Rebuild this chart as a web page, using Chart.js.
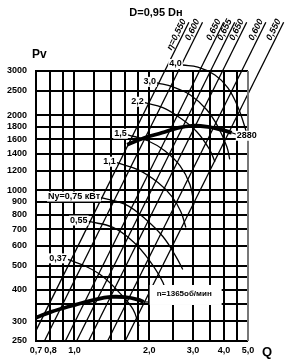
<!DOCTYPE html>
<html>
<head>
<meta charset="utf-8">
<script src="https://cdn.jsdelivr.net/npm/chart.js@4.4.0/dist/chart.umd.min.js"></script>
<style>
  html, body { margin: 0; padding: 0; background: #fff; }
</style>
</head>
<body>
<canvas id="fanChart" width="290" height="360"></canvas>
<script>
// --- Axis ticks ---
const qTicks = [0.7, 0.8, 0.9, 1.0, 1.2, 1.4, 1.6, 1.8, 2.0, 2.5, 3.0, 3.5, 4.0, 4.5, 5.0];
const qLabelled = [0.7, 0.8, 1.0, 2.0, 3.0, 4.0, 5.0];
const pTicks = [250, 300, 350, 400, 450, 500, 600, 700, 800, 900, 1000, 1200, 1400, 1600, 1800, 2000, 2500, 3000];
const pLabelled = [250, 300, 400, 500, 600, 700, 800, 900, 1000, 1200, 1400, 1600, 1800, 2000, 2500, 3000];

// --- Fan curves [Q, Pv] ---
const curve1365 = [[0.7, 310], [0.8, 326], [0.9, 338], [1.0, 348], [1.2, 365], [1.4, 375], [1.6, 374], [1.8, 366], [1.9, 358]];
const curve2880 = [[1.63, 1522], [1.92, 1623], [2.25, 1699], [2.61, 1778], [2.97, 1812], [3.45, 1795], [3.92, 1746], [4.30, 1699]];

// --- Efficiency lines (bottom end, top end) ---
const effLabels = ['η=0,550', '0,600', '0,650', '0,655', '0,650', '0,600', '0,550'];
const effFrom = [[0.70, 275], [0.757, 250], [0.919, 250], [1.02, 250], [1.14, 250], [1.36, 250], [1.60, 250]];
const effTo = [[2.89, 4700], [3.28, 4700], [3.99, 4700], [4.42, 4700], [4.94, 4700], [5.90, 4700], [6.96, 4700]];

// --- Power lines, kW ---
const powerLabels = ['0,37', '0,55', 'Ny=0,75 кВт', '1,1', '1,5', '2,2', '3,0', '4,0'];
const power037 = [[0.94, 530], [1.11, 497], [1.30, 453], [1.51, 392], [1.72, 335], [1.82, 287]];
const power055 = [[1.14, 751], [1.43, 711], [1.72, 625], [1.99, 530], [2.27, 429], [2.38, 367]];
const power075 = [[1.28, 936], [1.61, 877], [1.94, 765], [2.27, 654], [2.56, 545], [2.73, 483]];
const power110 = [[1.48, 1290], [1.80, 1210], [2.17, 1074], [2.47, 944], [2.68, 823], [2.81, 711]];
const power150 = [[1.64, 1668], [1.975, 1579], [2.31, 1440], [2.66, 1255], [2.92, 1054], [3.03, 877]];
const power220 = [[1.92, 2240], [2.27, 2140], [2.66, 1950], [3.11, 1715], [3.51, 1450], [3.68, 1300]];
const power300 = [[2.15, 2690], [2.49, 2590], [2.92, 2410], [3.41, 2100], [3.78, 1800], [4.11, 1495], [4.22, 1330]];
const power400 = [[2.73, 3170], [3.14, 3110], [3.68, 2890], [4.15, 2570], [4.55, 2160], [4.85, 1800], [4.95, 1670]];
const powerArcs = [power037, power055, power075, power110, power150, power220, power300, power400];

const FONT = '"Liberation Sans", Arial, sans-serif';

// --- Helpers ---
function toPoints(pairs){
    return pairs.map(([q, p]) => ({x: q, y: p}));
}
function lineSet(pairs, width, tension){
    return {
        data: toPoints(pairs),
        borderColor: '#000',
        borderWidth: width,
        pointRadius: 0,
        tension: tension,
        fill: false,
        clip: false
    };
}
function commaNum(v){
    return v.toFixed(1).replace('.', ',');
}
function boxedText(ctx, text, x, y, align){
    const w = ctx.measureText(text).width;
    const left = align === 'right' ? x - w : x;
    ctx.fillStyle = '#fff';
    ctx.fillRect(left - 1, y - 5, w + 2, 10);
    ctx.fillStyle = '#000';
    ctx.textAlign = align;
    ctx.fillText(text, x, y);
}

// --- Labels, frame and headings ---
const annotate = {
    id: 'annotate',
    afterDatasetsDraw(chart){
        const {ctx, chartArea: a, scales} = chart;
        const sx = scales.x, sy = scales.y;
        const px = pt => [sx.getPixelForValue(pt[0]), sy.getPixelForValue(pt[1])];
        ctx.save();

        // frame
        ctx.lineWidth = 2;
        ctx.strokeStyle = '#000';
        ctx.beginPath();
        ctx.moveTo(a.right, a.top);
        ctx.lineTo(a.left, a.top);
        ctx.lineTo(a.left, a.bottom);
        ctx.lineTo(a.right, a.bottom);
        ctx.stroke();
        ctx.strokeStyle = '#777';
        ctx.beginPath();
        ctx.moveTo(a.right, a.top);
        ctx.lineTo(a.right, a.bottom);
        ctx.stroke();

        // power labels at the start of each arc
        ctx.font = 'bold 9px ' + FONT;
        ctx.textBaseline = 'middle';
        powerArcs.forEach((arc, i) => {
            const [x0, y0] = px(arc[0]);
            boxedText(ctx, powerLabels[i], x0 - 1, y0 - 1, 'right');
        });

        // speed labels
        ctx.lineWidth = 1.2;
        ctx.strokeStyle = '#000';
        const [ax, ay] = px(curve1365[curve1365.length - 1]);
        ctx.beginPath();
        ctx.moveTo(ax, ay);
        ctx.lineTo(ax + 8, ay);
        ctx.stroke();
        ctx.fillStyle = '#fff';
        ctx.fillRect(ax + 6, ay - 17, 72, 20);
        ctx.fillStyle = '#000';
        ctx.font = 'bold 8px ' + FONT;
        ctx.textAlign = 'left';
        ctx.fillText('n=1365об/мин', ax + 13, ay - 8);

        const [bx, by] = px(curve2880[curve2880.length - 1]);
        ctx.beginPath();
        ctx.moveTo(bx, by);
        ctx.lineTo(bx + 6, by + 2);
        ctx.stroke();
        ctx.font = 'bold 9px ' + FONT;
        boxedText(ctx, '2880', bx + 5, by + 3, 'left');

        // efficiency labels along the top of each line
        ctx.font = 'bold italic 9px ' + FONT;
        ctx.textAlign = 'right';
        ctx.textBaseline = 'bottom';
        effLabels.forEach((label, i) => {
            const [x0, y0] = px(effFrom[i]);
            const [x1, y1] = px(effTo[i]);
            ctx.save();
            ctx.translate(x1, y1);
            ctx.rotate(Math.atan2(y1 - y0, x1 - x0));
            ctx.fillText(label, 0, -1);
            ctx.restore();
        });

        // headings
        ctx.textBaseline = 'middle';
        ctx.textAlign = 'center';
        ctx.font = 'bold 11px ' + FONT;
        ctx.fillText('D=0,95 Dн', 156, 13);
        ctx.textAlign = 'left';
        ctx.font = 'bold 12px ' + FONT;
        ctx.fillText('Pv', 32, 55);
        ctx.textAlign = 'center';
        ctx.font = 'bold 13px ' + FONT;
        ctx.fillText('Q', 267, 352);
        ctx.restore();
    }
};

// --- Datasets ---
let datasets = [];
effFrom.forEach((from, i) => datasets.push(lineSet([from, effTo[i]], 1.3, 0)));
powerArcs.forEach(arc => datasets.push(lineSet(arc, 1.3, 0.4)));
datasets.push(lineSet(curve1365, 3.8, 0.4));
datasets.push(lineSet(curve2880, 3.8, 0.4));

// --- Chart ---
const tickFont = {family: FONT, size: 9, weight: 'bold'};
new Chart(document.getElementById('fanChart'), {
    type: 'line',
    data: {datasets},
    options: {
        responsive: false,
        animation: false,
        devicePixelRatio: 1,
        layout: {padding: {top: 71, right: 42, left: 0, bottom: 0}},
        plugins: {legend: {display: false}, tooltip: {enabled: false}},
        scales: {
            x: {
                type: 'logarithmic',
                min: 0.7,
                max: 5.0,
                afterBuildTicks: s => { s.ticks = qTicks.map(v => ({value: v})); },
                afterFit: s => { s.height = 19; },
                ticks: {
                    autoSkip: false,
                    maxRotation: 0,
                    padding: 4,
                    color: '#000',
                    font: tickFont,
                    callback: v => qLabelled.includes(v) ? commaNum(v) : ''
                },
                grid: {color: '#000', lineWidth: 2, drawTicks: false},
                border: {display: false}
            },
            y: {
                type: 'logarithmic',
                min: 250,
                max: 3000,
                afterBuildTicks: s => { s.ticks = pTicks.map(v => ({value: v})); },
                afterFit: s => { s.width = 36; },
                ticks: {
                    autoSkip: false,
                    padding: 9,
                    color: '#000',
                    font: tickFont,
                    callback: v => pLabelled.includes(v) ? String(v) : ''
                },
                grid: {color: '#000', lineWidth: 2, drawTicks: false},
                border: {display: false}
            }
        }
    },
    plugins: [annotate]
});
</script>
</body>
</html>
